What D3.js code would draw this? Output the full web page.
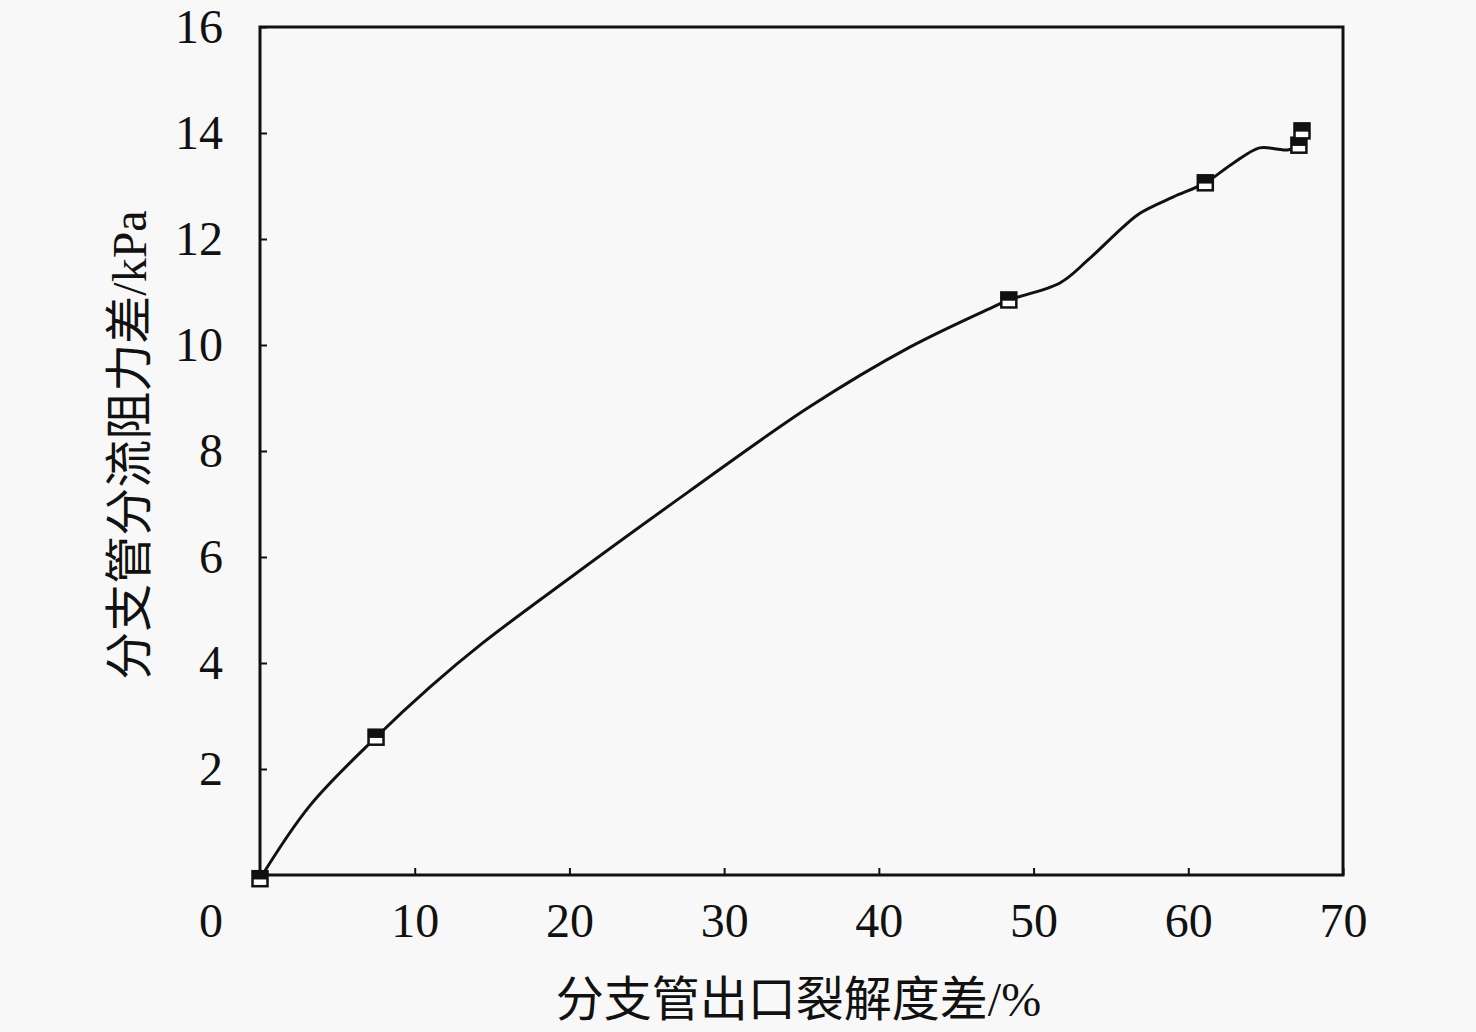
<!DOCTYPE html>
<html>
<head>
<meta charset="utf-8">
<script src="https://cdn.jsdelivr.net/npm/d3@7"></script>
<style>
  body { margin: 0; background: #f8f8f8; }
  text { fill: #111; }
</style>
</head>
<body>
<div id="chart"></div>
<script>
// data
var curveX = [0, 3.2, 7.5, 11.0, 14.4, 20.0, 27.6, 35.5, 42.0, 47.4, 48.4, 51.7, 53.5, 55.8, 56.9, 59.0, 61.1, 62.9, 64.6, 65.7, 66.4, 67.15, 67.35]
var curveY = [-0.07, 1.3, 2.6, 3.55, 4.38, 5.6, 7.21, 8.83, 9.96, 10.72, 10.85, 11.17, 11.6, 12.23, 12.49, 12.79, 13.06, 13.43, 13.72, 13.7, 13.68, 13.77, 14.04]
var markerX = [0, 7.5, 48.4, 61.1, 67.15, 67.35]
var markerY = [-0.07, 2.6, 10.85, 13.06, 13.77, 14.04]
var xTicks = [10, 20, 30, 40, 50, 60, 70]
var yTicks = [2, 4, 6, 8, 10, 12, 14, 16]
var xTitle = "分支管出口裂解度差/%"
var yTitle = "分支管分流阻力差/kPa"

var width = 1476
height = 1032
var margin = { top: 27, right: 133, bottom: 157, left: 260 }
var innerW = width - margin.left - margin.right
var innerH = height - margin.top - margin.bottom

var numFont = "'Liberation Serif', 'DejaVu Serif', serif"
var cjkFont = "'Liberation Serif', 'Noto Sans CJK SC', serif"

var svg = d3.select("#chart")
    .append("svg")
    .attr("width", width)
    .attr("height", height)
    .style("background", "#f8f8f8")

var g = svg.append("g")
    .attr("transform", "translate(" + margin.left + "," + margin.top + ")")

var x = d3.scaleLinear().domain([0, 70]).range([0, innerW])
var y = d3.scaleLinear().domain([0, 16]).range([innerH, 0])

// frame
g.append("rect")
    .attr("x", 0).attr("y", 0)
    .attr("width", innerW).attr("height", innerH)
    .attr("fill", "none")
    .attr("stroke", "#111")
    .attr("stroke-width", 3)

// x axis, ticks pointing inward
var xAxis = g.append("g")
    .attr("transform", "translate(0," + innerH + ")")
    .call(d3.axisBottom(x).tickValues(xTicks).tickSizeInner(-7).tickSizeOuter(0).tickPadding(28))
xAxis.select(".domain").remove()
xAxis.selectAll("line").attr("stroke", "#111").attr("stroke-width", 2)
xAxis.selectAll("text")
    .style("font-family", numFont)
    .style("font-size", "48px")
    .attr("fill", "#111")

// y axis
var yAxis = g.append("g")
    .call(d3.axisLeft(y).tickValues(yTicks).tickSizeInner(-7).tickSizeOuter(0).tickPadding(37))
yAxis.select(".domain").remove()
yAxis.selectAll("line").attr("stroke", "#111").attr("stroke-width", 2)
yAxis.selectAll("text")
    .style("font-family", numFont)
    .style("font-size", "48px")
    .attr("fill", "#111")

// the lone "0" at the corner
g.append("text")
    .attr("x", -37)
    .attr("y", innerH + 28)
    .attr("dy", "0.71em")
    .attr("text-anchor", "end")
    .style("font-family", numFont)
    .style("font-size", "48px")
    .text("0")

// smoothed curve
var pts = curveX.map(function (d, i) { return [d, curveY[i]] })
var line = d3.line()
    .x(function (d) { return x(d[0]) })
    .y(function (d) { return y(d[1]) })
    .curve(d3.curveCatmullRom.alpha(0.5))

g.append("path")
    .datum(pts)
    .attr("d", line)
    .attr("fill", "none")
    .attr("stroke", "#111")
    .attr("stroke-width", 3)

// half filled square markers
var s = 15
var markers = g.selectAll(".marker")
    .data(markerX.map(function (d, i) { return [d, markerY[i]] }))
    .enter()
    .append("g")
    .attr("class", "marker")
    .attr("transform", function (d) { return "translate(" + x(d[0]) + "," + y(d[1]) + ")" })

markers.append("rect")
    .attr("x", -s / 2).attr("y", -s / 2)
    .attr("width", s).attr("height", s)
    .attr("fill", "#fff")
    .attr("stroke", "#111")
    .attr("stroke-width", 2.5)

markers.append("rect")
    .attr("x", -s / 2).attr("y", -s / 2)
    .attr("width", s).attr("height", s * 0.55)
    .attr("fill", "#111")

// axis titles
svg.append("text")
    .attr("x", margin.left + innerW / 2 - 3)
    .attr("y", 1016)
    .attr("text-anchor", "middle")
    .style("font-family", cjkFont)
    .style("font-size", "48px")
    .text(xTitle)

svg.append("text")
    .attr("transform", "translate(146," + 445 + ") rotate(-90)")
    .attr("text-anchor", "middle")
    .style("font-family", cjkFont)
    .style("font-size", "48px")
    .text(yTitle)
</script>
</body>
</html>
